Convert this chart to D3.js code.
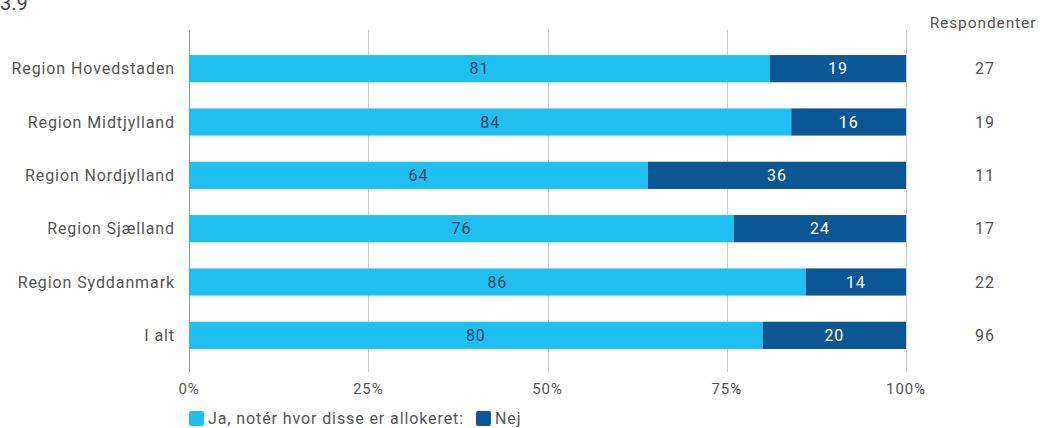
<!DOCTYPE html>
<html>
<head>
<meta charset="utf-8">
<script src="https://cdn.jsdelivr.net/npm/d3@7"></script>
<style>
  html, body { margin: 0; padding: 0; background: #fff; }
  svg { display: block; font-family: Roboto, "Noto Sans", sans-serif; }
  .lbl { letter-spacing: 0.9px; }
</style>
</head>
<body>
<svg id="chart" width="1040" height="428"></svg>
<script>
// Regions and the share (%) answering "Ja" / "Nej", plus respondent counts
const regions = ["Region Hovedstaden", "Region Midtjylland", "Region Nordjylland", "Region Sjælland", "Region Syddanmark", "I alt"];
const jaValues = [81, 84, 64, 76, 86, 80];
const nejValues = [19, 16, 36, 24, 14, 20];
const respondents = [27, 19, 11, 17, 22, 96];
const tickValues = [0, 25, 50, 75, 100];
const seriesNames = ["Ja, notér hvor disse er allokeret:", "Nej"];
const colors = ["#1fc0f0", "#0b5796"];

const svg = d3.select("#chart");
const plotLeft = 189, plotRight = 906;
const plotTop = 42, plotBottom = 362;

const x = d3.scaleLinear().domain([0, 100]).range([plotLeft, plotRight]);
const y = d3.scaleBand().domain(regions).range([plotTop, plotBottom]).paddingInner(0.49).paddingOuter(0.245);

// Section number (partly above the frame)
svg.append("text").attr("x", 0).attr("y", 10).attr("font-size", 20).attr("fill", "#444").text("3.9");

// Vertical gridlines
svg.append("g").selectAll("line").data(tickValues).join("line")
  .attr("x1", d => Math.round(x(d)) + 0.5).attr("x2", d => Math.round(x(d)) + 0.5)
  .attr("y1", 30).attr("y2", 372)
  .attr("stroke", d => d === 0 ? "#9a9a9a" : "#cfcfcf").attr("stroke-width", 1);

// Tick labels
svg.append("g").selectAll("text").data(tickValues).join("text")
  .attr("class", "lbl")
  .attr("x", d => x(d)).attr("y", 394)
  .attr("text-anchor", "middle").attr("font-size", 15).attr("fill", "#555")
  .text(d => d + "%");

// Stacked bars
const rows = regions.map((r, i) => ({ region: r, ja: jaValues[i], nej: nejValues[i], n: respondents[i] }));
const g = svg.append("g");
rows.forEach(d => {
  const y0 = y(d.region), h = y.bandwidth();
  g.append("rect").attr("x", x(0)).attr("y", y0).attr("width", x(d.ja) - x(0)).attr("height", h).attr("fill", colors[0]);
  g.append("rect").attr("x", x(d.ja)).attr("y", y0).attr("width", x(d.ja + d.nej) - x(d.ja)).attr("height", h).attr("fill", colors[1]);
  g.append("text").attr("class", "lbl").attr("x", (x(0) + x(d.ja)) / 2).attr("y", y0 + h / 2).attr("dy", "0.36em")
    .attr("text-anchor", "middle").attr("font-size", 16).attr("fill", "#17456b").text(d.ja);
  g.append("text").attr("class", "lbl").attr("x", (x(d.ja) + x(d.ja + d.nej)) / 2).attr("y", y0 + h / 2).attr("dy", "0.36em")
    .attr("text-anchor", "middle").attr("font-size", 16).attr("fill", "#ffffff").text(d.nej);
  // Category label
  g.append("text").attr("class", "lbl").attr("x", 175).attr("y", y0 + h / 2).attr("dy", "0.36em")
    .attr("text-anchor", "end").attr("font-size", 16).attr("fill", "#555").text(d.region);
  // Respondent count
  g.append("text").attr("class", "lbl").attr("x", 985).attr("y", y0 + h / 2).attr("dy", "0.36em")
    .attr("text-anchor", "middle").attr("font-size", 16).attr("fill", "#555").text(d.n);
});

// Column header
svg.append("text").attr("class", "lbl").attr("x", 983).attr("y", 22).attr("dy", "0.36em")
  .attr("text-anchor", "middle").attr("font-size", 15.5).attr("fill", "#555").text("Respondenter");

// Legend
const legend = svg.append("g");
let lx = 189;
seriesNames.forEach((name, i) => {
  legend.append("rect").attr("x", lx).attr("y", 411).attr("width", 15).attr("height", 15).attr("rx", 2).attr("fill", colors[i]);
  const t = legend.append("text").attr("class", "lbl").attr("x", lx + 19).attr("y", 423.5).attr("font-size", 16).attr("fill", "#555").text(name);
  lx += 19 + t.node().getComputedTextLength() + 12;
});
</script>
</body>
</html>
